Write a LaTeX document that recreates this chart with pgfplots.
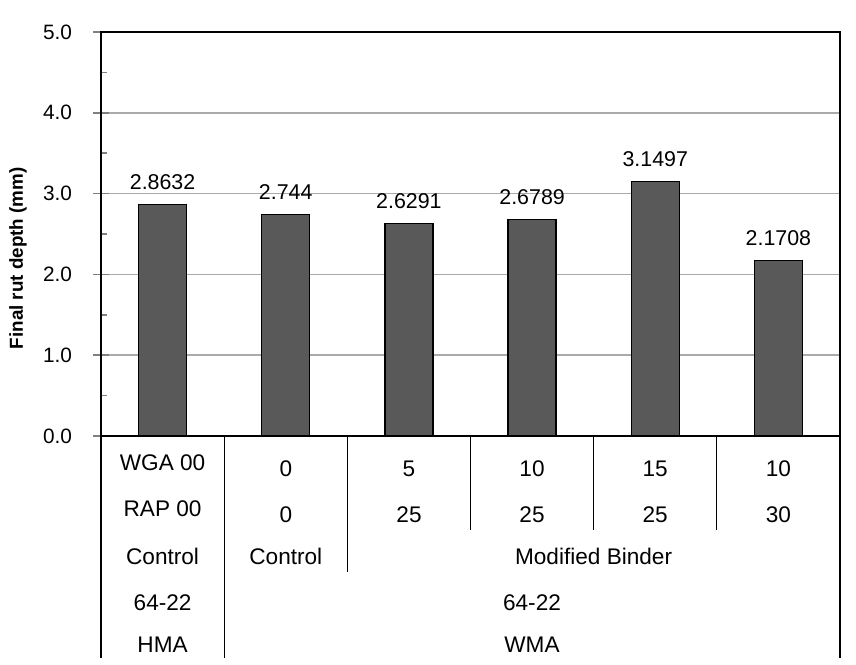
\documentclass[border=0pt]{standalone}
\usepackage{fontspec}
\setmainfont{Liberation Sans}
\usepackage{pgfplots}
\pgfplotsset{compat=1.18}
\definecolor{barc}{RGB}{89,89,89}
\definecolor{gridc}{RGB}{170,170,170}
\newcommand{\tabfont}{\fontsize{11.3}{13}\selectfont}
\begin{document}
\begin{tikzpicture}
\useasboundingbox (-50.5pt,-114pt) rectangle (377.5pt,218pt);
\begin{axis}[
    at={(0,0)}, anchor=south west,
    scale only axis,
    width=369.5pt, height=202pt,
    xmin=-0.5, xmax=5.5,
    ymin=0, ymax=5,
    xtick=\empty,
    ytick={0,1,2,3,4,5},
    minor y tick num=1,
    ytick pos=left,
    tick align=center,
    major tick length=8pt,
    minor tick length=3pt,
    every minor tick/.append style={xshift=1.5pt, line width=0.8pt},
    every major tick/.append style={line width=0.8pt},
    axis line style={line width=0.8pt},
    ymajorgrids,
    major grid style={gridc, line width=0.75pt},
    /pgf/number format/assume math mode=true,
    yticklabel={\pgfmathprintnumber[fixed,fixed zerofill,precision=1]{\tick}},
    yticklabel style={font=\fontsize{10.4}{12}\selectfont, xshift=-7pt},
    ylabel={Final rut depth (mm)},
    ylabel style={font=\fontsize{9.4}{11}\selectfont\bfseries,
        at={(axis description cs:-0.1123,0.44)}, anchor=center},
    clip=false,
    nodes near coords,
    point meta=explicit symbolic,
    every node near coord/.append style={font=\fontsize{10.7}{12}\selectfont,
        anchor=south, inner sep=0pt, yshift=7pt, text=black},
]
\addplot[ybar, bar width=24pt, fill=barc, draw=black, line width=0.6pt]
    coordinates {
    (0,2.8632) [2.8632]
    (1,2.744)  [2.744]
    (2,2.6291) [2.6291]
    (3,2.6789) [2.6789]
    (4,3.1497) [3.1497]
    (5,2.1708) [2.1708]
    };
\end{axis}
% category table below the axis
\begin{scope}[line width=0.6pt]
\draw (0,0) -- (0,-111pt);
\draw (61.58pt,0) -- (61.58pt,-111pt);
\draw (123.17pt,0) -- (123.17pt,-68pt);
\draw (184.75pt,0) -- (184.75pt,-47pt);
\draw (246.33pt,0) -- (246.33pt,-47pt);
\draw (307.92pt,0) -- (307.92pt,-47pt);
\draw (369.5pt,0) -- (369.5pt,-111pt);
\end{scope}
\begin{scope}[every node/.style={font=\tabfont, inner sep=0pt, anchor=center}]
\node at (30.8pt,-13.5pt) {WGA 00};
\node at (30.8pt,-36.5pt) {RAP 00};
\node at (30.8pt,-60pt) {Control};
\node at (30.8pt,-83.5pt) {64-22};
\node at (30.8pt,-104.5pt) {HMA};
\node at (92.4pt,-16.5pt) {0};
\node at (92.4pt,-39.5pt) {0};
\node at (92.4pt,-60pt) {Control};
\node at (154.0pt,-16.5pt) {5};
\node at (154.0pt,-39.5pt) {25};
\node at (215.5pt,-16.5pt) {10};
\node at (215.5pt,-39.5pt) {25};
\node at (277.1pt,-16.5pt) {15};
\node at (277.1pt,-39.5pt) {25};
\node at (338.7pt,-16.5pt) {10};
\node at (338.7pt,-39.5pt) {30};
\node at (246.3pt,-60pt) {Modified Binder};
\node at (215.5pt,-83.5pt) {64-22};
\node at (215.5pt,-104.5pt) {WMA};
\end{scope}
\end{tikzpicture}
\end{document}
